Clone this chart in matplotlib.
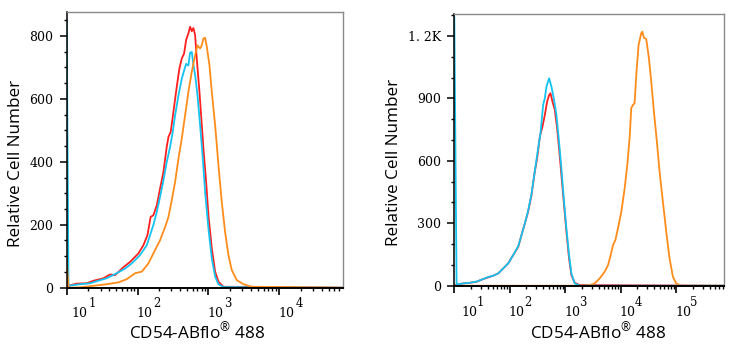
import numpy as np
import matplotlib
matplotlib.use("Agg")
import matplotlib.pyplot as plt
from matplotlib.ticker import LogLocator, MultipleLocator, NullFormatter
from matplotlib.transforms import offset_copy


# ----------------------------
# Data
# ----------------------------
LEFT_RED_X = [10, 10.6, 13.8, 19.1, 23.8, 33.0, 40.9, 48.2, 63.1, 78.5, 103, 121, 138, 153, 167,
              187, 208, 232, 258, 273, 294, 321, 358, 390, 421, 454, 485, 522, 552, 583, 615,
              650, 685, 748, 807, 851, 929, 1002, 1117, 1245, 1387, 1633, 79000]
LEFT_RED_Y = [0, 6, 13, 14, 22, 30, 42, 40, 65, 82, 109, 135, 167, 225, 230,
              262, 315, 368, 447, 479, 495, 559, 639, 697, 728, 744, 787, 808, 829, 815, 825,
              802, 728, 622, 516, 442, 336, 230, 125, 51, 19, 3, 0]

LEFT_CYAN_X = [10, 10.6, 15.4, 21.4, 29.6, 36.7, 50.8, 66.7, 82.8, 109, 135, 167, 187, 208, 232,
               258, 288, 314, 339, 378, 421, 454, 485, 522, 552, 583, 615, 650, 701, 764, 834,
               899, 1002, 1117, 1245, 1387, 1633, 79000]
LEFT_CYAN_Y = [850, 6, 11, 14, 24, 30, 46, 61, 77, 104, 135, 199, 241, 289, 341,
               399, 447, 495, 548, 611, 664, 690, 711, 706, 747, 749, 707, 675, 612, 516, 410,
               304, 188, 93, 35, 11, 2, 0]

LEFT_ORANGE_X = [10, 10.6, 15.4, 23.8, 36.7, 53.7, 70.3, 92.3, 115, 142, 177, 208, 245, 273, 304,
                 339, 378, 421, 469, 522, 583, 650, 701, 764, 807, 851, 899, 949, 1035, 1117,
                 1245, 1387, 1545, 1722, 1919, 2138, 2518, 3126, 4100, 79000]
LEFT_ORANGE_Y = [90, 0, 1, 6, 11, 17, 27, 46, 51, 77, 120, 151, 193, 225, 278,
                 336, 410, 474, 548, 622, 686, 739, 770, 760, 770, 792, 794, 766, 707, 622,
                 516, 389, 272, 177, 103, 56, 24, 11, 3, 0]

RIGHT_RED_X = [10, 11.0, 14.5, 19.1, 25.2, 33.3, 40.8, 50.3, 61.8, 76.0, 93.5, 115, 142, 163, 187,
               214, 246, 282, 311, 348, 388, 428, 471, 512, 541, 587, 647, 713, 773, 851,
               938, 1047, 1169, 1288, 1479, 1820, 720000]
RIGHT_RED_Y = [0, 6, 11, 14, 19, 32, 40, 48, 59, 83, 107, 147, 187, 244, 300,
               356, 436, 548, 612, 717, 765, 821, 885, 917, 925, 885, 845, 756, 660, 532,
               404, 260, 131, 51, 14, 3, 0]

RIGHT_CYAN_X = [10, 11.0, 14.5, 19.1, 25.2, 33.3, 40.8, 50.3, 61.8, 76.0, 93.5, 115, 142, 163, 187,
                214, 246, 282, 324, 357, 399, 428, 458, 512, 564, 621, 693, 773, 851, 938,
                1047, 1169, 1288, 1479, 1820, 720000]
RIGHT_CYAN_Y = [1290, 6, 11, 14, 20, 32, 42, 48, 59, 83, 107, 147, 190, 244, 300,
                360, 440, 550, 660, 732, 869, 901, 957, 997, 956, 900, 820, 689, 564, 420,
                276, 147, 59, 11, 0, 0]

RIGHT_ORANGE_X = [10, 2089, 2754, 3388, 4168, 5128, 5888, 6577, 7244, 7980, 8913, 10233, 11749,
                  13096, 14420, 15453, 16558, 17742, 19011, 20940, 23387, 24380, 26122, 28774,
                  32137, 35400, 39537, 44771, 50003, 57412, 65917, 75683, 86896, 99770, 122744,
                  720000]
RIGHT_ORANGE_Y = [0, 0, 3, 11, 35, 67, 99, 147, 195, 219, 276, 356, 468,
                  580, 708, 853, 869, 877, 1013, 1157, 1214, 1221, 1192, 1186,
                  1093, 981, 837, 692, 548, 404, 260, 131, 43, 11, 0,
                  0]

LEFT_YTICKS = [0, 200, 400, 600, 800]
LEFT_YLABELS = ["0", "200", "400", "600", "800"]
RIGHT_YTICKS = [0, 300, 600, 900, 1200]
RIGHT_YLABELS = ["0", "300", "600", "900", "1. 2K"]
LEFT_DECADES = [1, 2, 3, 4]
RIGHT_DECADES = [1, 2, 3, 4, 5]

XLABEL = "CD54-ABflo$^{®}$ 488"
YLABEL = "Relative Cell Number"

RED = "#ff1f1f"
CYAN = "#14c3f0"
ORANGE = "#ff8c1a"
FRAME_GRAY = "#8a8a8a"

plt.rcParams["mathtext.default"] = "regular"
SANS = ["Open Sans", "DejaVu Sans"]
SERIF = "DejaVu Serif"
TICK_SIZE = 9.0
LABEL_SIZE = 12.3


def style_axes(ax, xlim, ylim, yticks, ylabels, yminor):
    ax.set_xscale("log")
    ax.set_xlim(*xlim)
    ax.set_ylim(*ylim)

    for side in ("top", "right"):
        ax.spines[side].set_color(FRAME_GRAY)
        ax.spines[side].set_linewidth(1.0)
    ax.spines["left"].set_color("black")
    ax.spines["left"].set_linewidth(1.1)
    ax.spines["bottom"].set_color("black")
    ax.spines["bottom"].set_linewidth(1.4)

    ax.set_yticks(yticks)
    ax.set_yticklabels(ylabels, fontfamily=SERIF, fontsize=TICK_SIZE)
    ax.yaxis.set_minor_locator(MultipleLocator(yminor))
    ax.tick_params(axis="y", which="major", length=5, width=1.1, pad=4.5, direction="out")
    ax.tick_params(axis="y", which="minor", length=2.5, width=1.0, direction="out")

    ax.xaxis.set_major_locator(LogLocator(base=10, numticks=12))
    ax.xaxis.set_minor_locator(LogLocator(base=10, subs=np.arange(2, 10), numticks=12))
    ax.xaxis.set_major_formatter(NullFormatter())
    ax.xaxis.set_minor_formatter(NullFormatter())
    ax.tick_params(axis="x", which="major", length=4.8, width=1.2, direction="out")
    ax.tick_params(axis="x", which="minor", length=2.4, width=1.0, direction="out")


def decade_labels(fig, ax, decades, first_shift, base_dy, sup_dx, sup_dy):
    trans = ax.get_xaxis_transform()
    for d in decades:
        shift = first_shift if d == decades[0] else -1
        t_base = offset_copy(trans, fig=fig, x=shift, y=base_dy, units="dots")
        t_sup = offset_copy(trans, fig=fig, x=shift + sup_dx, y=base_dy + sup_dy, units="dots")
        ax.text(10.0 ** d, 0, "10", transform=t_base, ha="left", va="baseline",
                fontfamily=SERIF, fontsize=TICK_SIZE, clip_on=False)
        ax.text(10.0 ** d, 0, str(d), transform=t_sup, ha="left", va="baseline",
                fontfamily=SERIF, fontsize=8.4, clip_on=False)


def main():
    fig = plt.figure(figsize=(7.36, 3.5), dpi=100)

    ax1 = fig.add_axes([66.7 / 736, 1 - 287.7 / 350, (343 - 66.7) / 736, (287.7 - 12.3) / 350])
    ax2 = fig.add_axes([454.3 / 736, 1 - 285.7 / 350, (724 - 454.3) / 736, (285.7 - 14) / 350])

    lw = 1.3
    ax1.plot(LEFT_RED_X, LEFT_RED_Y, color=RED, lw=lw)
    ax1.plot(LEFT_CYAN_X, LEFT_CYAN_Y, color=CYAN, lw=lw)
    ax1.plot(LEFT_ORANGE_X, LEFT_ORANGE_Y, color=ORANGE, lw=lw)

    ax2.plot(RIGHT_RED_X, RIGHT_RED_Y, color=RED, lw=lw)
    ax2.plot(RIGHT_ORANGE_X, RIGHT_ORANGE_Y, color=ORANGE, lw=lw)
    ax2.plot(RIGHT_CYAN_X, RIGHT_CYAN_Y, color=CYAN, lw=lw)

    style_axes(ax1, (10, 10 ** 4.9), (0, 875), LEFT_YTICKS, LEFT_YLABELS, 50)
    style_axes(ax2, (10, 10 ** 5.86), (0, 1306), RIGHT_YTICKS, RIGHT_YLABELS, 100)

    decade_labels(fig, ax1, LEFT_DECADES, 5, -29, 17, 9.7)
    decade_labels(fig, ax2, RIGHT_DECADES, 7, -30, 15, 9.7)

    # axis titles placed where the reference has them
    fig.text(196.7 / 736, 1 - 338.3 / 350, XLABEL, ha="center", va="baseline",
             fontfamily=SANS, fontsize=LABEL_SIZE)
    fig.text(598 / 736, 1 - 338.3 / 350, XLABEL, ha="center", va="baseline",
             fontfamily=SANS, fontsize=LABEL_SIZE)
    fig.text(16.0 / 736, 1 - 163.3 / 350, YLABEL, rotation=90, ha="center", va="center",
             fontfamily=SANS, fontsize=LABEL_SIZE)
    fig.text(394.5 / 736, 1 - 162.5 / 350, YLABEL, rotation=90, ha="center", va="center",
             fontfamily=SANS, fontsize=LABEL_SIZE)

    fig.savefig("out.png", dpi=100)
    plt.close(fig)


if __name__ == "__main__":
    main()
